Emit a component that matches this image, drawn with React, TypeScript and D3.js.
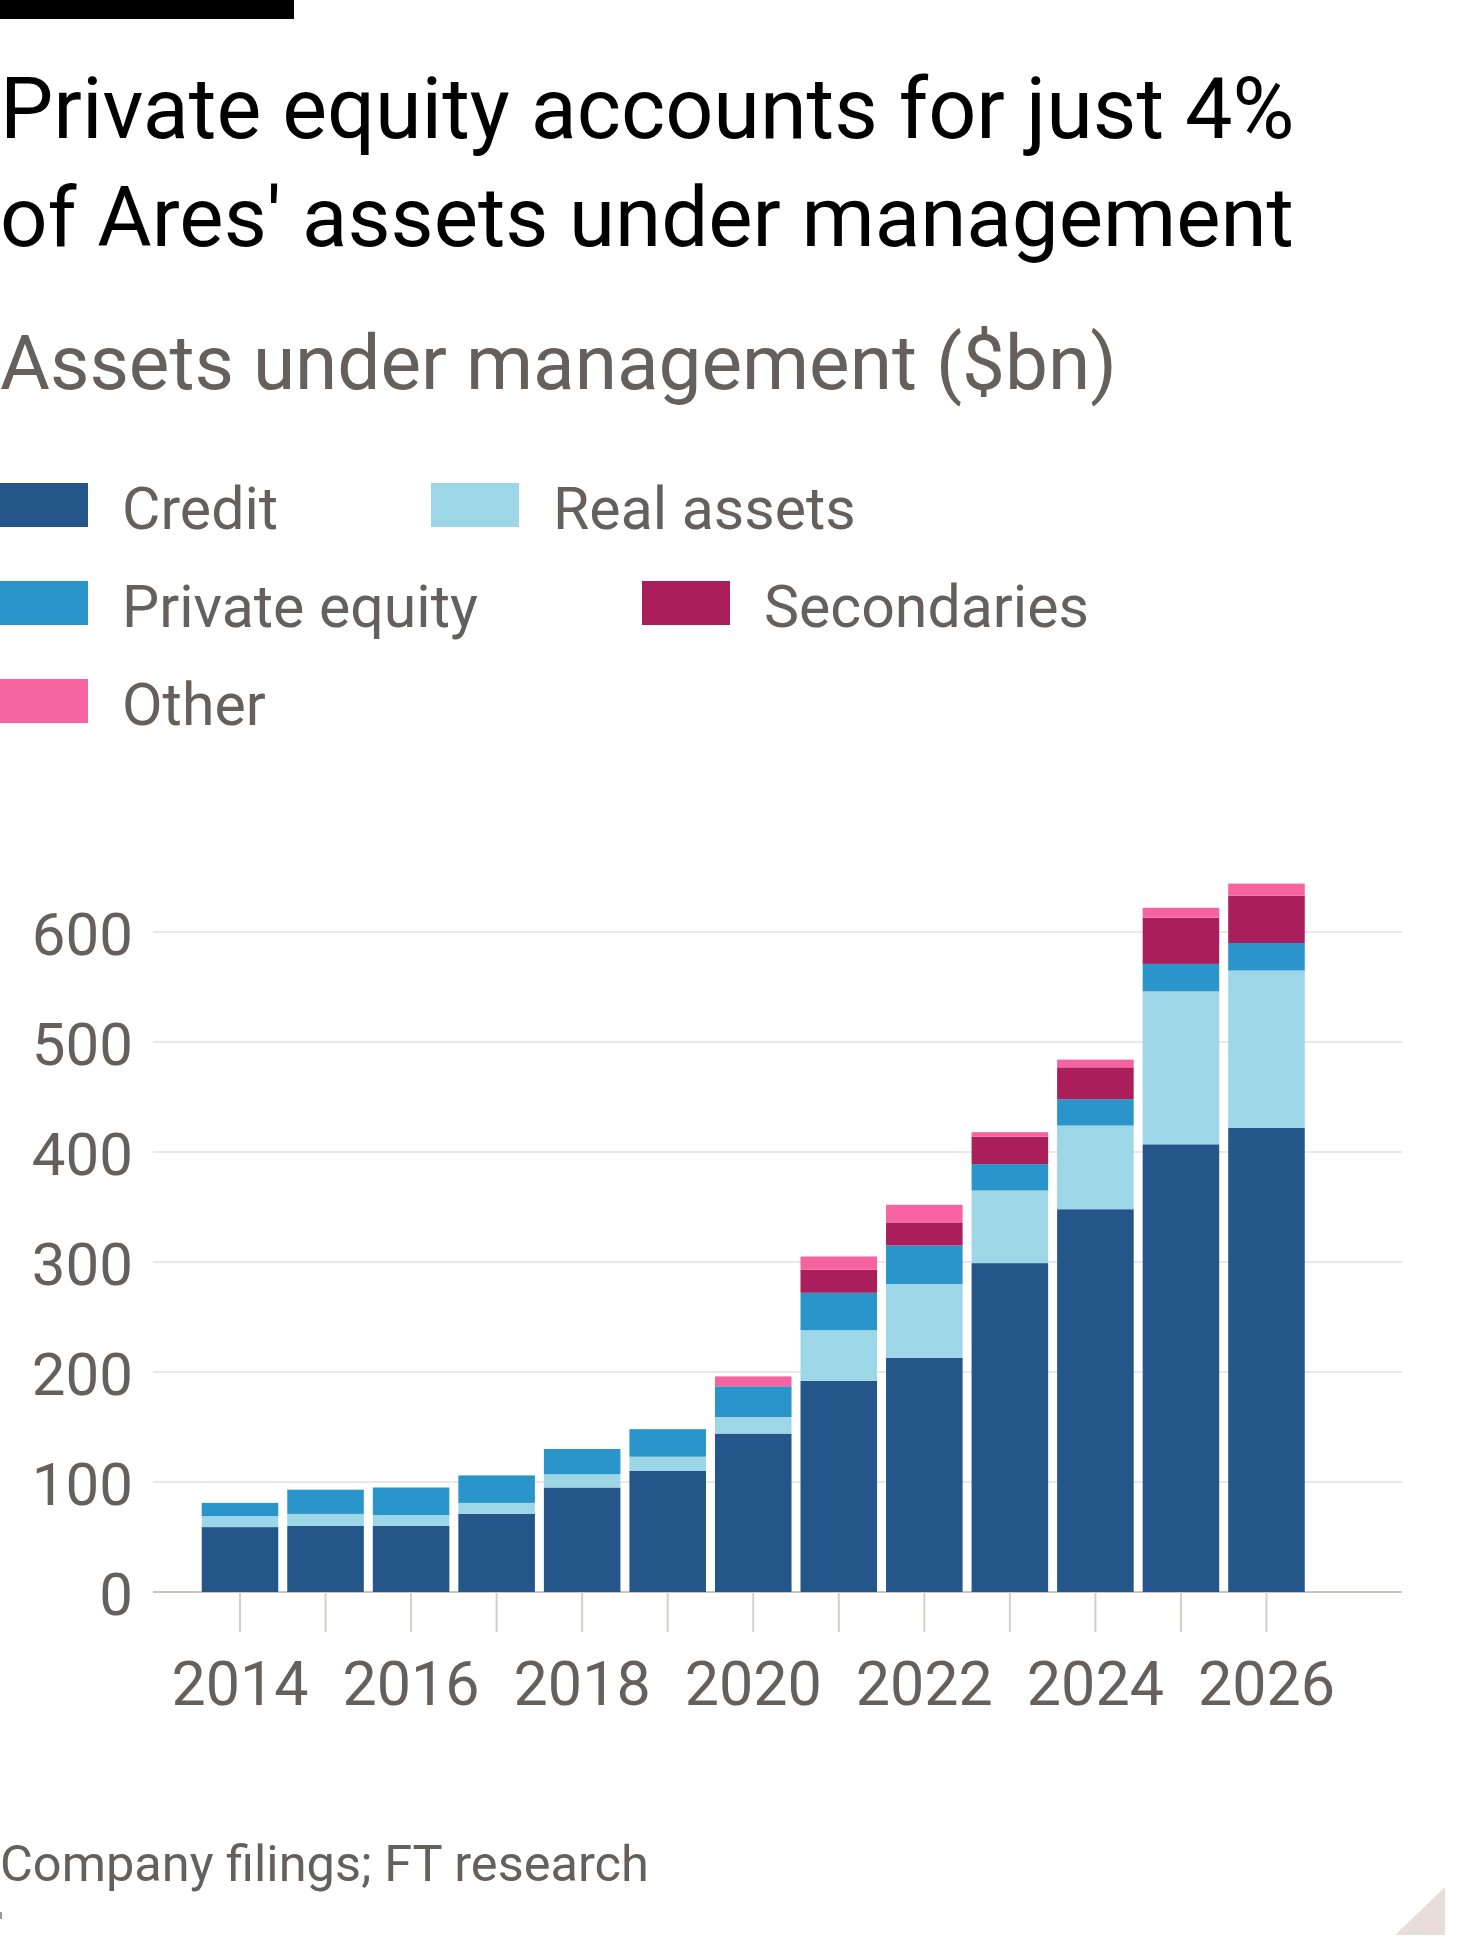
import * as d3 from "d3";
import React from "react";

const years = [2014, 2015, 2016, 2017, 2018, 2019, 2020, 2021, 2022, 2023, 2024, 2025, 2026];
const seriesNames = ["Credit", "Real assets", "Private equity", "Secondaries", "Other"];
const seriesColors = ["#25568a", "#9dd6e7", "#2a95ca", "#aa1f5b", "#f564a0"];

const credit = [59, 60, 60, 71, 95, 110, 144, 192, 213, 299, 348, 407, 422];
const realAssets = [10, 11, 10, 10, 12, 13, 15, 46, 67, 66, 76, 139, 143];
const privateEquity = [12, 22, 25, 25, 23, 25, 28, 34, 35, 24, 24, 25, 25];
const secondaries = [0, 0, 0, 0, 0, 0, 0, 21, 21, 25, 29, 42, 43];
const other = [0, 0, 0, 0, 0, 0, 9, 12, 16, 4, 7, 9, 11];

const yTicks = [0, 100, 200, 300, 400, 500, 600];
const xTicks = [2014, 2016, 2018, 2020, 2022, 2024, 2026];

const W = 1470;
const H = 1960;
const font = "Roboto, 'Noto Sans', sans-serif";
const grey = "#66605c";

// legend layout: [series index, row, swatch x]
const legendItems: [number, number, number][] = [
  [0, 0, 0],
  [1, 0, 431],
  [2, 1, 0],
  [3, 1, 642],
  [4, 2, 0],
];

const App: React.FC = () => {
  const rows = years.map((yr, i) => ({
    year: yr,
    "Credit": credit[i],
    "Real assets": realAssets[i],
    "Private equity": privateEquity[i],
    "Secondaries": secondaries[i],
    "Other": other[i],
  }));

  const stacked = d3.stack<any>().keys(seriesNames)(rows);

  const step = 85.54;
  const x = d3.scaleBand<number>()
    .domain(years)
    .range([240 - step / 2, 240 - step / 2 + step * years.length])
    .paddingInner(0.105)
    .paddingOuter(0.0525);

  const y = d3.scaleLinear().domain([0, 600]).range([1592, 932]);

  const gridX0 = 153;
  const gridX1 = 1402;

  return (
    <svg width={W} height={H} style={{ position: "absolute", left: 0, top: 0, background: "#fff" }}>
      <rect x={0} y={0} width={W} height={H} fill="#fff" />
      <rect x={0} y={0} width={294} height={19} fill="#000" />

      <text x={0} y={138} fontFamily={font} fontSize={84.5} fill="#000">Private equity accounts for just 4%</text>
      <text x={0} y={246} fontFamily={font} fontSize={83.5} fill="#000">of Ares' assets under management</text>
      <text x={0} y={389} fontFamily={font} fontSize={76.5} fill={grey}>Assets under management ($bn)</text>

      {legendItems.map(([si, row, sx]) => (
        <g key={seriesNames[si]} transform={`translate(${sx}, ${483 + row * 98})`}>
          <rect x={0} y={0} width={88} height={44} fill={seriesColors[si]} />
          <text x={122} y={46} fontFamily={font} fontSize={59} fill={grey}>{seriesNames[si]}</text>
        </g>
      ))}

      {yTicks.map(t => (
        <g key={t}>
          <line x1={gridX0} x2={gridX1} y1={y(t)} y2={y(t)} stroke={t === 0 ? "#ccc6c2" : "#ebe7e4"} strokeWidth={2} />
          <text x={133} y={y(t) + 23} textAnchor="end" fontFamily={font} fontSize={60} fill={grey}>{t}</text>
        </g>
      ))}

      {years.map(yr => (
        <line key={yr} x1={x(yr)! + x.bandwidth() / 2} x2={x(yr)! + x.bandwidth() / 2}
          y1={y(0)} y2={y(0) + 40} stroke="#d4cfcb" strokeWidth={2} />
      ))}

      {stacked.map((s, si) => (
        <g key={s.key} fill={seriesColors[si]}>
          {s.map((d, i) => d[1] - d[0] > 0 ? (
            <rect key={years[i]} x={x(years[i])} y={y(d[1])} width={x.bandwidth()} height={y(d[0]) - y(d[1])} />
          ) : null)}
        </g>
      ))}

      {xTicks.map(yr => (
        <text key={yr} x={x(yr)! + x.bandwidth() / 2} y={1705} textAnchor="middle" fontFamily={font} fontSize={61} fill={grey}>{yr}</text>
      ))}

      <text x={0} y={1881} fontFamily={font} fontSize={50.5} fill={grey}>Company filings; FT research</text>
      <line x1={1} x2={1} y1={1912} y2={1919} stroke="#999" strokeWidth={2} />
      <path d="M1395,1935 L1445,1935 L1445,1887 Z" fill="#e8ddd8" />
    </svg>
  );
};

export default App;
